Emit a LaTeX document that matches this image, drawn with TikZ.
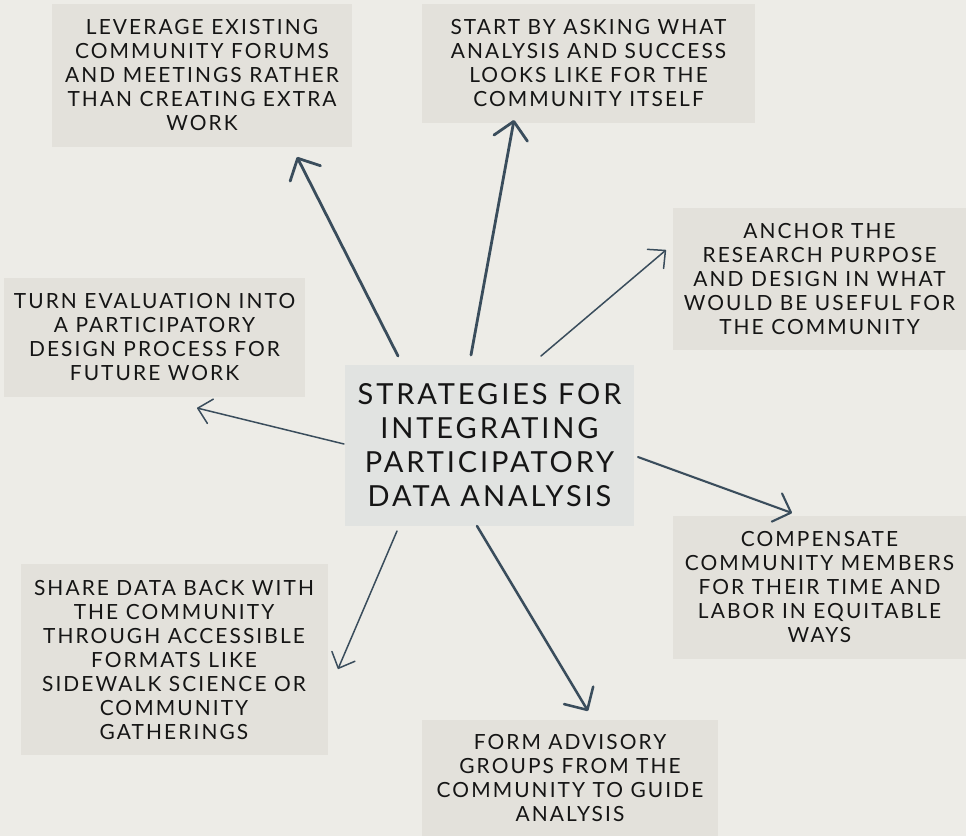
\documentclass[tikz,border=0pt]{standalone}
\usepackage{fontspec}
\setmainfont{Lato}[LetterSpace=10]
\usetikzlibrary{arrows.meta}
\definecolor{paper}{HTML}{EDECE7}
\definecolor{cardfill}{HTML}{E3E1DB}
\definecolor{hubfill}{HTML}{E1E3E1}
\definecolor{ink}{HTML}{151515}
\definecolor{slate}{HTML}{3A4D5C}
\begin{document}
\begin{tikzpicture}[x=1pt,y=-1pt,
  card/.style={fill=cardfill, inner sep=0pt, align=center, text=ink,
    font=\fontsize{20.9}{24}\selectfont},
  hub/.style={fill=hubfill, inner sep=0pt, align=center, text=ink,
    font=\fontsize{29}{34}\selectfont},
  link/.style={draw=slate, line cap=round, line join=round},
  heavy/.style={link, line width=2.8pt, -{Straight Barb[round,length=17pt,width=34pt]}},
  medium/.style={link, line width=2.1pt, -{Straight Barb[round,length=15pt,width=30pt]}},
  light/.style={link, line width=1.5pt, -{Straight Barb[round,length=13pt,width=25pt]}}]
\fill[paper] (0,0) rectangle (966,836);
\useasboundingbox (0,0) rectangle (966,836);

% central topic
\node[hub, minimum width=289pt, minimum height=161pt] (hubbox) at (489.5,445.5)
  {STRATEGIES FOR\\INTEGRATING\\PARTICIPATORY\\DATA ANALYSIS};

% surrounding strategy cards
\node[card, minimum width=300pt, minimum height=143pt] (lev) at (202,75.5)
  {LEVERAGE EXISTING\\COMMUNITY FORUMS\\AND MEETINGS RATHER\\THAN CREATING EXTRA\\WORK};
\node[card, minimum width=333pt, minimum height=119pt] (ask) at (588.5,63.5)
  {START BY ASKING WHAT\\ANALYSIS AND SUCCESS\\LOOKS LIKE FOR THE\\COMMUNITY ITSELF};
\node[card, minimum width=293pt, minimum height=142pt] (anc) at (819.5,279)
  {ANCHOR THE\\RESEARCH PURPOSE\\AND DESIGN IN WHAT\\WOULD BE USEFUL FOR\\THE COMMUNITY};
\node[card, minimum width=301pt, minimum height=119pt] (turn) at (154.5,337.5)
  {TURN EVALUATION INTO\\A PARTICIPATORY\\DESIGN PROCESS FOR\\FUTURE WORK};
\node[card, minimum width=293pt, minimum height=143pt] (comp) at (819.5,587.5)
  {COMPENSATE\\COMMUNITY MEMBERS\\FOR THEIR TIME AND\\LABOR IN EQUITABLE\\WAYS};
\node[card, minimum width=307pt, minimum height=191pt] (share) at (174,659.5)
  {SHARE DATA BACK WITH\\THE COMMUNITY\\THROUGH ACCESSIBLE\\FORMATS LIKE\\SIDEWALK SCIENCE OR\\COMMUNITY\\GATHERINGS};
\node[card, minimum width=296pt, minimum height=116pt] (form) at (570,778)
  {FORM ADVISORY\\GROUPS FROM THE\\COMMUNITY TO GUIDE\\ANALYSIS};

% arrow ends around the hub and short of each card
\coordinate (levT) at (398,356);  \coordinate (levH) at (297,157);
\coordinate (askT) at (471,355);  \coordinate (askH) at (514,120);
\coordinate (ancT) at (541,356);  \coordinate (ancH) at (666,250);
\coordinate (turnT) at (344,444); \coordinate (turnH) at (197,408);
\coordinate (compT) at (638,457); \coordinate (compH) at (792,513);
\coordinate (shareT) at (397,531);\coordinate (shareH) at (338,669);
\coordinate (formT) at (477,526); \coordinate (formH) at (588,711);

\draw[heavy]  (levT) -- (levH);
\draw[heavy]  (askT) -- (askH);
\draw[light]  (ancT) -- (ancH);
\draw[light]  (turnT) -- (turnH);
\draw[medium] (compT) -- (compH);
\draw[light]  (shareT) -- (shareH);
\draw[heavy, line width=2.5pt] (formT) -- (formH);
\end{tikzpicture}
\end{document}
